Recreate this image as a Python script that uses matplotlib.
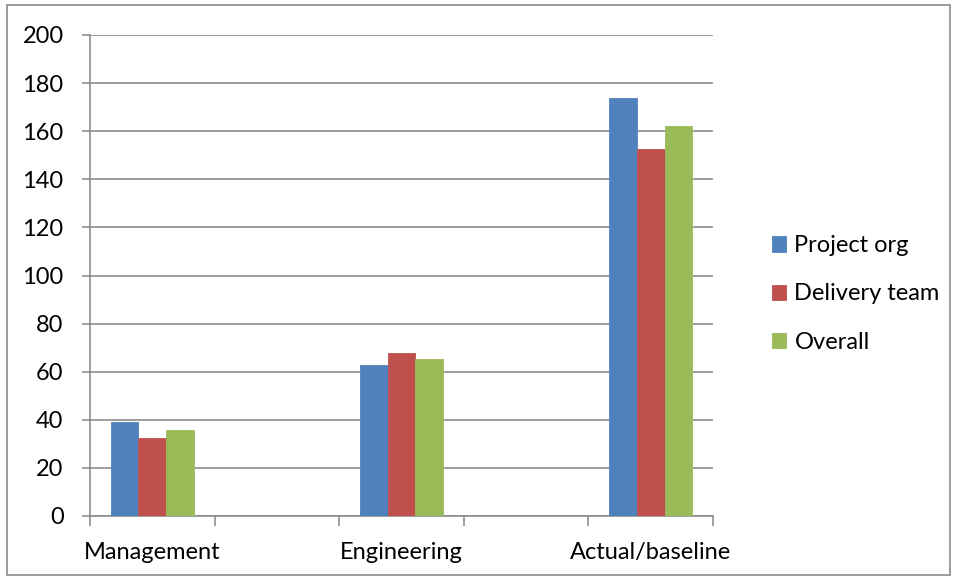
import matplotlib
matplotlib.use("Agg")
import matplotlib.pyplot as plt
from matplotlib.patches import Rectangle
import numpy as np

plt.rcParams['font.family'] = ['Lato', 'DejaVu Sans']

categories = ["Management", "Engineering", "Actual/baseline"]
series_names = ["Project org", "Delivery team", "Overall"]
project_org = [39.1, 62.8, 173.8]
delivery_team = [32.4, 67.8, 152.6]
overall = [35.8, 65.3, 162.2]
y_ticks = [0, 20, 40, 60, 80, 100, 120, 140, 160, 180, 200]

colors = ["#4F81BD", "#C0504D", "#9BBB59"]
grid_color = "#8C8C8C"
fs = 17

fig = plt.figure(figsize=(9.58, 5.79), dpi=100)
ax = fig.add_axes([90 / 958, 1 - 516 / 579, (713 - 90) / 958, (516 - 35) / 579])

# Categories sit in every other slot, leaving empty slots between them
slots = np.arange(len(categories)) * 2
n_slots = slots[-1] + 1
bar_w = 1 / 4.5
for i, (vals, name, c) in enumerate(zip([project_org, delivery_team, overall], series_names, colors)):
    ax.bar(slots + (i - 1) * bar_w, vals, width=bar_w, color=c, edgecolor=c,
           linewidth=0.6, label=name, zorder=3)

ax.set_xlim(-0.5, n_slots - 0.5)
ax.set_ylim(0, 200)
ax.set_yticks(y_ticks)
ax.yaxis.grid(True, color=grid_color, linewidth=1.2, zorder=0)
ax.set_axisbelow(True)

ax.set_xticks(np.arange(-0.5, n_slots, 1.0))
ax.set_xticklabels([])
ax.set_xticks(slots, minor=True)
ax.set_xticklabels(categories, minor=True)
ax.tick_params(axis='x', which='minor', length=0, pad=19, labelsize=fs)
ax.tick_params(axis='x', which='major', length=7, width=1.2, color=grid_color, direction='out')
ax.tick_params(axis='y', length=6, width=1.2, color=grid_color, direction='out', pad=13, labelsize=fs)

for s in ['top', 'right']:
    ax.spines[s].set_visible(False)
for s in ['left', 'bottom']:
    ax.spines[s].set_color(grid_color)
    ax.spines[s].set_linewidth(1.2)

handles, labels = ax.get_legend_handles_labels()
leg = fig.legend(handles, labels, loc='center left', bbox_to_anchor=(755 / 958, 1 - 294 / 579),
                 frameon=False, fontsize=fs, handlelength=0.62, handleheight=0.62,
                 handletextpad=0.35, labelspacing=1.15, borderpad=0.2)

fig.patches.append(Rectangle((7 / 958, 4 / 579), 943 / 958, 570 / 579, transform=fig.transFigure,
                             fill=False, edgecolor="#8C8C8C", linewidth=1.2))

fig.savefig("out.png", dpi=100)
